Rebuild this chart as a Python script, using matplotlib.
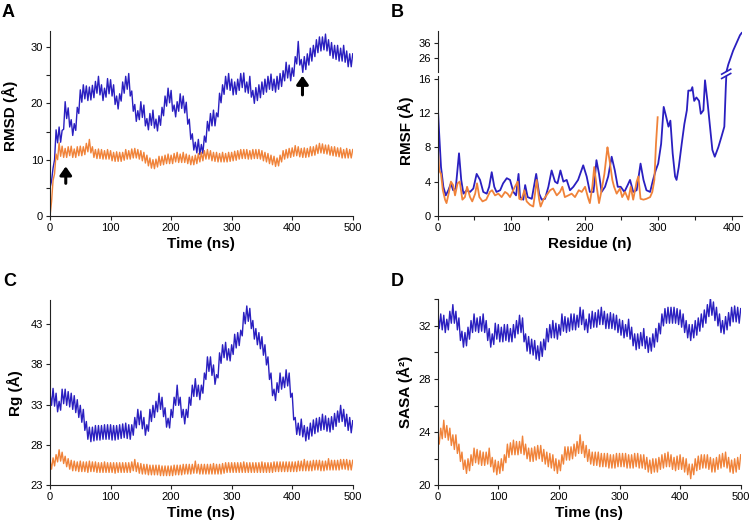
import numpy as np
import matplotlib
matplotlib.use("Agg")
import matplotlib.pyplot as plt
from matplotlib.ticker import MultipleLocator
from matplotlib.lines import Line2D

plt.rcParams['font.family'] = ['Liberation Sans', 'DejaVu Sans']

# ---------------- data (time series sampled every 2.5 ns, 0-500 ns) ----------------
rmsd_blue = [
    5.0, 6.2, 8.5, 10.0, 15.3, 13.0, 15.8, 13.1, 15.2, 15.4, 20.3, 17.3, 19.2, 15.8, 17.1, 14.3, 16.4, 15.2, 19.3, 18.2,
    22.4, 20.2, 23.3, 20.8, 23.1, 20.5, 22.9, 20.6, 23.2, 21.0, 23.9, 21.8, 24.8, 21.5, 23.3, 20.5, 22.7, 21.1, 24.4, 21.7,
    24.2, 21.3, 23.3, 19.8, 21.3, 19.0, 21.7, 20.4, 23.8, 21.8, 24.8, 22.5, 25.3, 21.3, 22.2, 18.6, 19.8, 16.8, 18.7, 17.1,
    20.3, 17.5, 19.7, 16.0, 17.3, 15.3, 18.2, 16.1, 18.8, 15.6, 17.2, 15.1, 17.8, 16.1, 19.3, 17.8, 21.3, 19.5, 22.7, 20.1,
    22.3, 18.6, 19.7, 17.6, 20.3, 18.6, 21.7, 19.1, 21.3, 18.3, 20.2, 16.3, 17.2, 13.6, 14.6, 11.7, 13.1, 11.2, 13.6, 10.9,
    12.7, 11.1, 14.2, 13.1, 16.8, 15.1, 18.2, 16.0, 18.8, 16.0, 18.3, 17.6, 21.8, 20.1, 23.3, 21.6, 24.8, 22.5, 25.3, 22.3,
    24.3, 21.5, 23.8, 21.6, 24.3, 22.3, 25.3, 22.8, 25.4, 22.0, 23.8, 21.8, 24.8, 21.1, 22.3, 20.0, 22.8, 20.5, 23.3, 21.0,
    23.8, 21.6, 24.3, 22.0, 24.8, 22.5, 25.2, 22.3, 24.3, 22.0, 24.8, 22.5, 25.3, 23.0, 25.8, 24.0, 27.3, 24.5, 26.8, 24.0,
    26.3, 24.8, 28.3, 27.0, 31.0, 26.8, 27.8, 25.5, 28.3, 26.0, 28.8, 26.8, 29.8, 27.5, 30.3, 28.3, 31.3, 29.0, 31.8, 29.3,
    31.8, 29.5, 32.3, 29.3, 31.3, 28.5, 30.8, 28.0, 30.3, 27.8, 30.3, 27.5, 29.8, 27.5, 30.3, 27.3, 29.3, 26.5, 28.8, 26.5,
    28.8]
rmsd_orange = [
    0.0, 2.5, 6.3, 7.5, 11.0, 10.0, 13.0, 10.6, 12.4, 10.4, 12.0, 10.4, 12.3, 10.7, 12.4, 10.4, 11.9, 10.4, 12.3, 10.7,
    12.4, 10.7, 12.3, 10.9, 12.9, 11.4, 13.6, 11.2, 12.3, 10.4, 11.8, 10.2, 11.9, 10.2, 11.8, 10.1, 11.6, 10.1, 11.8, 10.1,
    11.6, 9.8, 11.3, 9.7, 11.4, 9.7, 11.3, 9.7, 11.3, 9.9, 11.8, 10.1, 11.6, 10.1, 11.9, 10.3, 12.0, 10.3, 11.8, 10.1,
    11.6, 9.8, 11.3, 9.4, 10.8, 8.9, 10.3, 8.5, 10.0, 8.4, 10.1, 8.7, 10.6, 9.0, 10.6, 9.1, 10.8, 9.3, 11.0, 9.3,
    10.8, 9.3, 11.1, 9.6, 11.3, 9.5, 11.0, 9.5, 11.3, 9.5, 11.0, 9.3, 10.8, 9.1, 10.6, 9.1, 10.8, 9.3, 11.1, 9.6,
    11.3, 9.8, 11.6, 10.1, 11.8, 10.1, 11.6, 9.8, 11.3, 9.7, 11.3, 9.6, 11.1, 9.6, 11.3, 9.6, 11.1, 9.6, 11.3, 9.7,
    11.3, 9.8, 11.5, 9.9, 11.6, 10.1, 11.8, 10.2, 11.8, 10.2, 11.8, 10.1, 11.6, 10.1, 11.8, 10.2, 11.8, 10.2, 11.8, 10.1,
    11.6, 9.8, 11.3, 9.6, 11.1, 9.3, 10.8, 9.1, 10.6, 8.8, 10.3, 8.9, 10.8, 9.6, 11.6, 10.1, 11.8, 10.3, 12.0, 10.4,
    12.1, 10.6, 12.5, 10.7, 12.3, 10.5, 12.0, 10.4, 12.1, 10.4, 12.0, 10.5, 12.3, 10.7, 12.3, 10.8, 12.6, 11.1, 12.9, 11.2,
    12.8, 11.1, 12.6, 11.0, 12.6, 10.8, 12.3, 10.7, 12.3, 10.6, 12.1, 10.5, 12.1, 10.3, 11.8, 10.3, 12.0, 10.3, 11.8, 10.3,
    11.8]
arrow_times = [26, 417]
arrow_tips = [8.8, 24.9]
arrow_tails = [5.8, 21.5]

rmsf_res_blue = [
    0, 2, 4.5, 7.7, 11, 14.5, 18, 21, 24.5, 29,
    32, 35, 39.5, 44, 48.5, 53, 57.6, 62, 66.7, 70,
    73.5, 77, 80, 85, 89, 94, 98.4, 103, 106.6, 110,
    112, 116.5, 119, 122.4, 128, 134, 138, 141.5, 146, 150.6,
    155, 159.6, 163, 167, 171, 175.5, 180, 184.6, 191, 198,
    202.7, 207, 212, 216, 219.5, 223, 227.7, 232, 236.7, 241,
    245, 249, 254, 258.5, 261.7, 266, 270.7, 276, 280, 284,
    289, 293, 296.6, 300, 304, 307.5, 311, 314, 316.6, 319.7,
    323, 325, 328, 332, 335.6, 339, 341, 344.7, 346.5, 349,
    352, 355.6, 358, 361.5, 363.7, 367, 370.5, 373.7, 377, 381.8,
    386, 390, 392, 395.4, 402, 411.3, 413.6]
rmsf_blue = [
    13, 9.6, 5.7, 3.4, 2.4, 3, 3.8, 3, 3.2, 7.3,
    4.2, 2.6, 3, 2.8, 3.2, 4.9, 4.2, 2.8, 2.6, 3.4,
    5.1, 3.4, 2.8, 3, 3.8, 4.4, 4.2, 2.8, 2.4, 4.9,
    2.2, 1.9, 3.6, 2.2, 2, 4.9, 2.6, 1.9, 2, 3.4,
    5.3, 4, 3.8, 5.3, 4, 4.2, 3, 3.4, 4.2, 5.9,
    4.6, 2.8, 2.8, 6.5, 4.9, 2.8, 3.4, 4.6, 6.9, 5.3,
    3.4, 3.4, 2.8, 3.6, 4.2, 2.8, 3, 6.1, 4.2, 3,
    2.8, 4.2, 5.3, 6.1, 8.4, 12.7, 11.5, 10.4, 11.1, 7.3,
    4.6, 4.2, 5.7, 8.4, 10.7, 12.3, 14.6, 14.6, 15, 13.4,
    13.8, 13.4, 11.9, 12.3, 15.8, 13.4, 10.4, 7.7, 6.9, 8,
    9.2, 10.4, 15, 21.4, 30.7, 41, 42.5]
rmsf_res_orange = [
    0, 2, 4.5, 7, 10, 12, 15.4, 18, 21, 23.6,
    27, 30, 33.6, 37, 40, 44, 47, 51, 53.5, 56.7,
    61, 66, 71, 74, 78, 82.5, 87, 91.6, 95, 98.4,
    101.6, 105, 108.8, 111, 114, 118, 121, 125.6, 130, 132.4,
    134.7, 138, 140, 143.8, 148, 153, 157, 162, 166.4, 169.6,
    173, 177.8, 182.3, 186.8, 192, 196, 200.5, 205, 207, 210.4,
    213, 216, 219.5, 223, 226.8, 230, 231, 234.5, 237.6, 240,
    243.5, 248, 251, 255, 259.4, 262.6, 266, 270.7, 273, 276,
    280, 284, 289, 292, 294.8, 297, 299.3]
rmsf_orange = [
    8.4, 5.3, 4.9, 3, 1.9, 1.5, 2.8, 4, 3.6, 2.4,
    3.8, 4, 1.9, 2.2, 3.4, 2.2, 1.7, 2.6, 3.8, 2.2,
    1.7, 1.9, 2.8, 3, 2.4, 2.6, 2.2, 2.8, 2.6, 2.2,
    2.8, 3.4, 4, 2, 1.9, 3, 1.7, 1.3, 1.1, 2.6,
    4.2, 1.9, 1.1, 1.9, 2.4, 3, 3.2, 2.4, 2.8, 3.4,
    2.2, 2.4, 2.6, 2.2, 3, 2.8, 3.4, 2, 1.5, 3.4,
    5.7, 3.6, 1.5, 3, 4.9, 7.3, 8, 6.1, 4.2, 3.4,
    2.6, 3.2, 2.2, 2.8, 1.9, 3.4, 1.9, 4, 4.6, 2,
    1.9, 2, 2.2, 2.8, 4.2, 8.4, 11.5]
rmsf_break_value = 16

rg_blue = [
    34.4, 32.9, 35.0, 32.8, 34.4, 32.1, 33.4, 32.3, 34.9, 33.1, 34.9, 32.9, 34.6, 32.7, 34.4, 32.4, 34.1, 32.0, 33.6, 31.4,
    32.9, 30.8, 32.4, 29.8, 30.9, 28.7, 30.2, 28.4, 30.2, 28.5, 30.4, 28.6, 30.4, 28.6, 30.4, 28.7, 30.5, 28.7, 30.5, 28.7,
    30.5, 28.6, 30.4, 28.6, 30.4, 28.7, 30.5, 28.8, 30.6, 28.9, 30.7, 28.8, 30.5, 28.7, 30.5, 29.2, 31.4, 30.1, 32.4, 30.5,
    32.2, 30.0, 31.4, 29.2, 30.5, 29.7, 32.4, 30.9, 32.9, 31.4, 33.4, 32.1, 34.4, 32.4, 33.9, 31.5, 32.6, 30.2, 31.3, 30.1,
    32.4, 31.4, 33.9, 32.9, 35.4, 32.9, 33.9, 31.4, 32.4, 30.6, 32.4, 31.4, 33.9, 32.9, 35.4, 34.0, 36.2, 34.0, 35.4, 33.6,
    35.4, 34.4, 36.9, 36.1, 38.9, 37.1, 38.9, 36.6, 37.9, 35.5, 36.7, 36.3, 39.4, 38.1, 40.4, 38.8, 40.7, 38.5, 39.9, 38.4,
    40.4, 39.2, 41.7, 40.0, 41.9, 40.3, 42.2, 41.5, 44.4, 43.0, 45.2, 43.3, 44.9, 42.4, 43.4, 41.1, 42.4, 40.4, 41.9, 39.9,
    41.4, 39.1, 40.4, 37.9, 38.9, 36.1, 36.9, 34.1, 34.9, 33.5, 35.7, 34.5, 36.9, 34.9, 36.4, 35.1, 37.3, 35.3, 36.9, 33.9,
    34.4, 31.1, 31.4, 29.3, 30.7, 29.2, 31.2, 29.0, 30.4, 28.5, 30.2, 28.7, 30.7, 29.1, 31.1, 29.4, 31.3, 29.6, 31.4, 29.8,
    31.8, 29.9, 31.6, 29.7, 31.3, 29.6, 31.5, 29.9, 31.9, 30.3, 32.2, 30.8, 32.9, 30.9, 32.4, 30.3, 31.8, 29.8, 31.4, 29.5,
    31.0]
rg_orange = [
    26.1, 25.0, 26.4, 25.4, 26.8, 25.9, 27.4, 26.0, 27.1, 25.7, 26.6, 25.3, 26.3, 25.0, 26.1, 24.8, 26.0, 24.8, 25.9, 24.7,
    26.0, 24.7, 25.9, 24.7, 25.9, 24.6, 26.0, 24.7, 25.9, 24.7, 25.9, 24.6, 25.8, 24.6, 25.8, 24.6, 25.9, 24.6, 25.8, 24.6,
    25.8, 24.6, 25.8, 24.5, 25.8, 24.6, 25.8, 24.6, 25.8, 24.6, 25.8, 24.6, 25.8, 24.6, 25.9, 24.8, 26.2, 24.7, 25.8, 24.5,
    25.7, 24.4, 25.6, 24.4, 25.6, 24.3, 25.5, 24.3, 25.5, 24.3, 25.5, 24.3, 25.5, 24.2, 25.4, 24.2, 25.4, 24.2, 25.4, 24.2,
    25.4, 24.2, 25.5, 24.3, 25.5, 24.3, 25.5, 24.3, 25.6, 24.4, 25.6, 24.4, 25.6, 24.4, 25.6, 24.5, 26.0, 24.5, 25.6, 24.4,
    25.6, 24.4, 25.6, 24.4, 25.6, 24.4, 25.6, 24.4, 25.7, 24.4, 25.6, 24.4, 25.6, 24.4, 25.7, 24.5, 25.8, 24.6, 25.8, 24.6,
    25.8, 24.6, 25.8, 24.6, 25.8, 24.6, 25.8, 24.6, 25.9, 24.6, 25.8, 24.6, 25.8, 24.6, 25.8, 24.6, 25.8, 24.6, 25.8, 24.6,
    25.9, 24.6, 25.8, 24.6, 25.8, 24.6, 25.8, 24.6, 25.9, 24.7, 25.9, 24.7, 25.9, 24.7, 25.9, 24.7, 25.9, 24.7, 25.9, 24.7,
    25.9, 24.7, 25.9, 24.7, 26.0, 24.8, 26.0, 24.8, 26.2, 24.8, 26.0, 24.8, 26.0, 24.8, 26.1, 24.9, 26.1, 24.9, 26.1, 24.8,
    26.0, 24.8, 26.0, 24.9, 26.3, 24.9, 26.1, 24.9, 26.1, 24.9, 26.1, 24.9, 26.2, 25.0, 26.2, 25.0, 26.2, 24.9, 26.1, 24.9,
    26.1]

sasa_blue = [
    33.1, 31.8, 32.9, 31.7, 32.8, 31.5, 32.5, 31.7, 33.1, 32.2, 33.6, 32.2, 33.1, 31.7, 32.6, 30.9, 31.6, 30.4, 31.5, 30.5,
    31.9, 31.0, 32.4, 31.5, 32.9, 31.6, 32.6, 31.5, 32.7, 31.6, 32.9, 31.5, 32.4, 30.9, 31.8, 30.4, 31.4, 30.6, 32.2, 31.0,
    32.1, 30.8, 31.9, 30.8, 32.1, 30.9, 32.1, 30.8, 31.8, 30.8, 32.1, 31.1, 32.4, 31.4, 32.8, 31.5, 32.6, 30.8, 31.4, 30.1,
    31.2, 29.9, 31.0, 29.8, 30.9, 29.5, 30.5, 29.4, 30.8, 29.7, 31.0, 30.2, 31.8, 30.8, 32.1, 31.1, 32.4, 31.1, 32.2, 31.0,
    32.1, 31.3, 32.9, 31.6, 32.7, 31.5, 32.6, 31.6, 32.9, 31.7, 32.9, 31.7, 32.8, 31.9, 33.4, 32.1, 33.2, 31.7, 32.5, 31.5,
    32.9, 31.8, 33.1, 31.9, 33.0, 31.9, 33.2, 32.1, 33.4, 32.1, 33.1, 31.8, 32.9, 31.8, 33.0, 31.8, 32.9, 31.7, 32.8, 31.5,
    32.5, 31.3, 32.4, 31.1, 32.1, 31.2, 32.5, 31.0, 31.9, 30.5, 31.4, 30.2, 31.4, 30.3, 31.5, 30.5, 31.8, 30.3, 31.2, 30.0,
    31.1, 30.1, 31.4, 30.4, 31.8, 30.8, 32.2, 31.4, 32.9, 32.0, 33.3, 32.2, 33.4, 32.2, 33.4, 32.2, 33.4, 32.2, 33.3, 32.1,
    33.2, 31.9, 32.9, 31.5, 32.4, 31.1, 32.1, 30.9, 32.1, 31.1, 32.4, 31.3, 32.6, 31.6, 32.9, 31.9, 33.2, 32.2, 33.6, 32.7,
    34.1, 32.8, 33.8, 32.4, 33.4, 32.0, 32.9, 31.5, 32.4, 31.4, 32.7, 31.7, 33.0, 32.0, 33.4, 32.3, 33.5, 32.3, 33.4, 32.2,
    33.3]
sasa_orange = [
    24.0, 23.1, 24.3, 23.5, 24.9, 23.6, 24.5, 23.4, 24.3, 23.0, 23.8, 22.7, 23.8, 22.4, 23.1, 21.8, 22.5, 21.2, 21.9, 20.9,
    22.0, 21.1, 22.3, 21.5, 22.8, 21.7, 22.7, 21.6, 22.6, 21.5, 22.5, 21.5, 22.5, 21.6, 22.8, 21.4, 22.1, 21.0, 21.9, 20.8,
    21.8, 20.9, 22.0, 21.1, 22.3, 21.7, 23.1, 22.1, 23.2, 22.3, 23.4, 22.3, 23.3, 22.3, 23.3, 22.4, 23.7, 22.3, 23.1, 22.0,
    22.8, 21.8, 22.8, 21.8, 22.9, 21.9, 23.0, 22.0, 23.0, 21.8, 22.7, 21.6, 22.5, 21.4, 22.4, 21.3, 22.3, 21.1, 22.0, 20.9,
    21.9, 21.1, 22.3, 21.6, 22.9, 21.9, 22.9, 21.9, 22.9, 22.0, 23.1, 22.2, 23.3, 22.4, 23.8, 22.4, 23.3, 22.1, 23.0, 21.8,
    22.7, 21.6, 22.5, 21.5, 22.5, 21.5, 22.5, 21.4, 22.4, 21.4, 22.4, 21.4, 22.4, 21.3, 22.3, 21.3, 22.3, 21.3, 22.4, 21.4,
    22.4, 21.4, 22.4, 21.4, 22.4, 21.3, 22.3, 21.3, 22.3, 21.3, 22.4, 21.4, 22.4, 21.3, 22.3, 21.3, 22.3, 21.2, 22.1, 21.0,
    21.9, 20.9, 22.0, 21.0, 22.0, 21.0, 22.1, 21.2, 22.3, 21.3, 22.4, 21.4, 22.5, 21.4, 22.3, 21.2, 22.1, 21.1, 22.2, 21.2,
    22.3, 21.2, 22.1, 21.0, 22.0, 20.8, 21.6, 20.5, 21.6, 20.8, 22.0, 21.1, 22.2, 21.2, 22.3, 21.3, 22.3, 21.3, 22.3, 21.2,
    22.1, 21.0, 22.0, 21.0, 22.1, 21.2, 22.3, 21.3, 22.4, 21.4, 22.5, 21.3, 22.1, 21.0, 21.9, 20.9, 22.0, 21.0, 22.1, 21.2,
    22.3]

BLUE = '#2a1fc0'
ORANGE = '#f0833a'
LBL = dict(fontsize=11, fontweight='bold')
TICKFS = 8


def tgrid(values):
    return np.linspace(0, 500, len(values))


# ---------------- figure ----------------
fig = plt.figure(figsize=(7.5, 5.24), dpi=100)

axA = fig.add_axes([0.0667, 0.5878, 0.4036, 0.3536])
axB = fig.add_axes([0.5836, 0.5878, 0.4053, 0.2672])
axBt = fig.add_axes([0.5836, 0.8632, 0.4053, 0.0782])
axC = fig.add_axes([0.0667, 0.0738, 0.4036, 0.3531])
axD = fig.add_axes([0.5836, 0.0738, 0.4040, 0.3550])


def style(ax):
    for s in ('top', 'right'):
        ax.spines[s].set_visible(False)
    for s in ('left', 'bottom'):
        ax.spines[s].set_linewidth(0.8)
        ax.spines[s].set_color('#222222')
    ax.tick_params(which='both', direction='out', width=0.8, color='#222222',
                   labelsize=TICKFS, pad=2, length=3)


TS_LW = 1.0

# A
axA.plot(tgrid(rmsd_blue), rmsd_blue, color=BLUE, lw=TS_LW)
axA.plot(tgrid(rmsd_orange), rmsd_orange, color=ORANGE, lw=TS_LW)
for t, tip, tail in zip(arrow_times, arrow_tips, arrow_tails):
    axA.annotate('', xy=(t, tip), xytext=(t, tail),
                 arrowprops=dict(arrowstyle='-|>,head_width=0.35,head_length=0.5',
                                 lw=2.2, color='black', shrinkA=0, shrinkB=0))
axA.set_xlim(0, 500)
axA.set_ylim(0, 32.9)
axA.set_xticks([0, 100, 200, 300, 400, 500])
axA.set_yticks([0, 10, 20, 30])
axA.yaxis.set_minor_locator(MultipleLocator(5))
axA.set_xlabel('Time (ns)', labelpad=3, **LBL)
axA.set_ylabel('RMSD (Å)', **LBL)
axA.yaxis.set_label_coords(-0.106, 0.54)
style(axA)

# B (broken axis)
for ax in (axB, axBt):
    ax.plot(rmsf_res_blue, rmsf_blue, color=BLUE, lw=1.3)
    ax.plot(rmsf_res_orange, rmsf_orange, color=ORANGE, lw=1.3)
    ax.set_xlim(0, 413.6)
axB.set_ylim(0, 16.3)
axB.set_yticks([0, 4, 8, 12, 16])
axB.set_xticks([0, 100, 200, 300, 400])
axB.xaxis.set_minor_locator(MultipleLocator(50))
axB.set_xlabel('Residue (n)', labelpad=3, **LBL)
style(axB)
axBt.set_ylim(16.6, 44)
axBt.set_yticks([26, 36])
style(axBt)
axBt.spines['bottom'].set_visible(False)
axBt.tick_params(axis='x', which='both', bottom=False, labelbottom=False)
fig.text(406 / 750, 1 - 131 / 524, 'RMSF (Å)', rotation=90, ha='center',
         va='center', **LBL)

# break marks on the blue line
fig.canvas.draw()
xb = float(np.interp(rmsf_break_value, rmsf_blue[-8:], rmsf_res_blue[-8:]))
for ax, yv in ((axB, axB.get_ylim()[1]), (axBt, axBt.get_ylim()[0])):
    px, py = ax.transData.transform((xb, yv))
    fx, fy = fig.transFigure.inverted().transform((px, py))
    dx, dy = 4.5 / 750, 2.5 / 524
    fig.add_artist(Line2D([fx - dx, fx + dx], [fy - dy, fy + dy],
                          color=BLUE, lw=1.2, transform=fig.transFigure))

# C
axC.plot(tgrid(rg_blue), rg_blue, color=BLUE, lw=TS_LW)
axC.plot(tgrid(rg_orange), rg_orange, color=ORANGE, lw=TS_LW)
axC.set_xlim(0, 500)
axC.set_ylim(23, 45.9)
axC.set_xticks([0, 100, 200, 300, 400, 500])
axC.set_yticks([23, 28, 33, 38, 43])
axC.set_xlabel('Time (ns)', labelpad=3, **LBL)
axC.set_ylabel('Rg (Å)', **LBL)
axC.yaxis.set_label_coords(-0.089, 0.5)
style(axC)

# D
axD.plot(tgrid(sasa_blue), sasa_blue, color=BLUE, lw=TS_LW)
axD.plot(tgrid(sasa_orange), sasa_orange, color=ORANGE, lw=TS_LW)
axD.set_xlim(0, 500)
axD.set_ylim(20, 34)
axD.set_xticks([0, 100, 200, 300, 400, 500])
axD.set_yticks([20, 24, 28, 32])
axD.yaxis.set_minor_locator(MultipleLocator(2))
axD.set_xlabel('Time (ns)', labelpad=3, **LBL)
axD.set_ylabel('SASA (Å²)', **LBL)
axD.yaxis.set_label_coords(-0.082, 0.5)
style(axD)

# panel letters
for txt, x, y in (('A', 2, 4), ('B', 391, 4), ('C', 3, 273), ('D', 391, 273)):
    fig.text(x / 750, 1 - y / 524, txt, ha='left', va='top',
             fontsize=13, fontweight='bold')

fig.savefig('out.png', dpi=100)
